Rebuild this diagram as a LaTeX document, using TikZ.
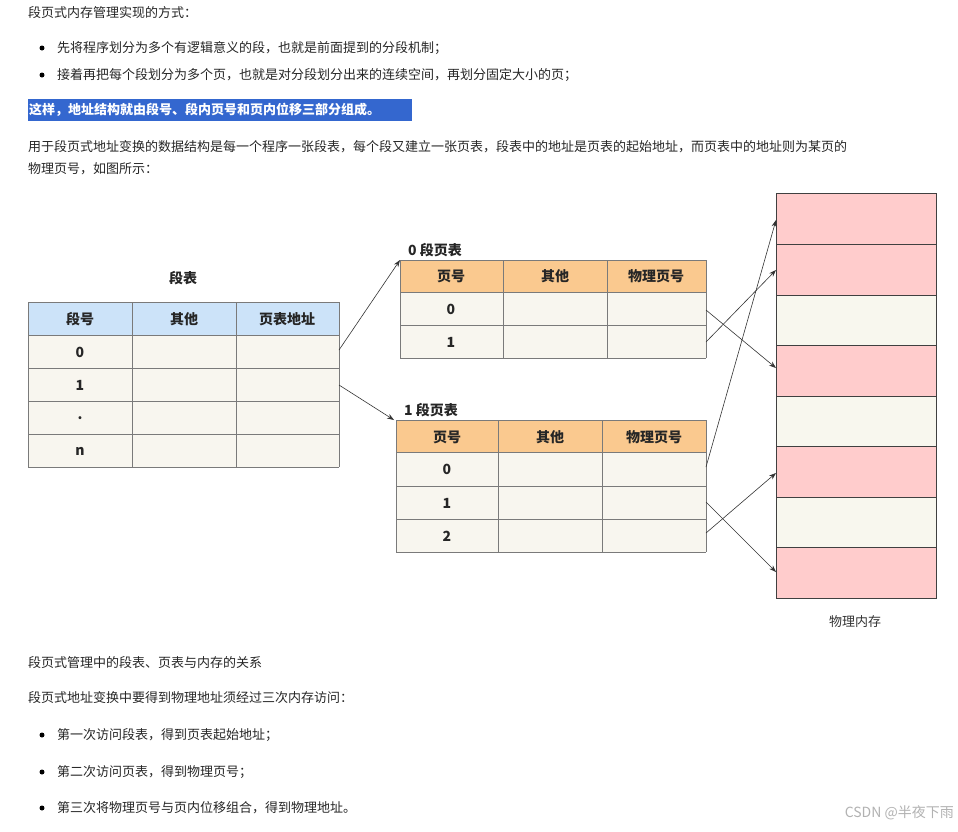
\documentclass[tikz,border=0pt]{standalone}
\usepackage{fontspec}
\setmainfont{Noto Sans CJK SC}
\usetikzlibrary{arrows.meta}
\definecolor{hdrblue}{HTML}{CCE3F9}
\definecolor{hdrorange}{HTML}{FAC98F}
\definecolor{cellcream}{HTML}{F8F6EF}
\definecolor{mempink}{HTML}{FFCCCC}
\definecolor{memcream}{HTML}{F8F7EE}
\definecolor{hlblue}{HTML}{3467CF}
\definecolor{gridgray}{HTML}{7A7A7A}
\begin{document}
\begin{tikzpicture}[x=1pt,y=-1pt,
  txt/.style={anchor=west,inner sep=0pt,font=\fontsize{13}{15}\selectfont,text=black!85},
  cell/.style={draw=gridgray,line width=0.8pt},
  lbl/.style={inner sep=0pt,font=\fontsize{14}{16}\selectfont\bfseries,text=black!85},
  conn/.style={-{Stealth[length=7pt,width=5pt]},line width=0.6pt,black!80},
  dot/.style={circle,fill=black,inner sep=0pt,minimum size=5pt}]
\useasboundingbox (0,0) rectangle (958,831);
\fill[white] (0,0) rectangle (958,831);
% text above
\node[txt] (t1) at (28,13) {段页式内存管理实现的方式：};
\node[dot] (b1) at (42,48) {};
\node[txt] (t2) at (57,48) {先将程序划分为多个有逻辑意义的段，也就是前面提到的分段机制；};
\node[dot] (b2) at (42,75) {};
\node[txt] (t3) at (57,75) {接着再把每个段划分为多个页，也就是对分段划分出来的连续空间，再划分固定大小的页；};
\fill[hlblue] (28,99) rectangle (412,121);
\node[txt,text=white,font=\fontsize{13}{15}\selectfont\bfseries] (t4) at (29,110) {这样，地址结构就由段号、段内页号和页内位移三部分组成。};
\node[txt] (t5) at (28,147) {用于段页式地址变换的数据结构是每一个程序一张段表，每个段又建立一张页表，段表中的地址是页表的起始地址，而页表中的地址则为某页的};
\node[txt] (t6) at (28,169) {物理页号，如图所示：};
% segment table
\node[lbl] (segt) at (183,278) {段表};
\fill[hdrblue] (28,302) rectangle (339,335);
\fill[cellcream] (28,335) rectangle (339,467);
\foreach \y in {302,335,368,401,434,467} \draw[cell] (28,\y) -- (339,\y);
\foreach \x in {28,132,236,339} \draw[cell] (\x,302) -- (\x,467);
\node[lbl] (s1) at (80,319) {段号};
\node[lbl] (s2) at (184,319) {其他};
\node[lbl] (s3) at (287,319) {页表地址};
\node[lbl] (s4) at (80,352) {0};
\node[lbl] (s5) at (80,385) {1};
\node[lbl] (s6) at (80,418) {.};
\node[lbl] (s7) at (80,451) {n};
\coordinate (seg0) at (339,350);
\coordinate (seg1) at (339,385);
% page table 0
\node[lbl,anchor=west] (p0t) at (408,250) {0 段页表};
\fill[hdrorange] (400,260) rectangle (706,292);
\fill[cellcream] (400,292) rectangle (706,358);
\foreach \y in {260,292,325,358} \draw[cell] (400,\y) -- (706,\y);
\foreach \x in {400,503,607,706} \draw[cell] (\x,260) -- (\x,358);
\node[lbl] (a1) at (451,276) {页号};
\node[lbl] (a2) at (555,276) {其他};
\node[lbl] (a3) at (656,276) {物理页号};
\node[lbl] (a4) at (451,309) {0};
\node[lbl] (a5) at (451,342) {1};
\coordinate (p0top) at (400,260);
\coordinate (p0r0) at (706,310);
\coordinate (p0r1) at (706,342);
% page table 1
\node[lbl,anchor=west] (p1t) at (404,410) {1 段页表};
\fill[hdrorange] (396,420) rectangle (706,452);
\fill[cellcream] (396,452) rectangle (706,552);
\foreach \y in {420,452,486,519,552} \draw[cell] (396,\y) -- (706,\y);
\foreach \x in {396,498,602,706} \draw[cell] (\x,420) -- (\x,552);
\node[lbl] (c1) at (447,437) {页号};
\node[lbl] (c2) at (550,437) {其他};
\node[lbl] (c3) at (654,437) {物理页号};
\node[lbl] (c4) at (447,469) {0};
\node[lbl] (c5) at (447,503) {1};
\node[lbl] (c6) at (447,536) {2};
\coordinate (p1top) at (394,420);
\coordinate (p1r0) at (706,467);
\coordinate (p1r1) at (706,502);
\coordinate (p1r2) at (706,533);
% memory
\foreach \t/\b/\c in {193/244/mempink,244/295/mempink,295/345/memcream,345/396/mempink,396/446/memcream,446/497/mempink,497/547/memcream,547/598/mempink}
  \filldraw[fill=\c,draw=black!75,line width=0.8pt] (776,\t) rectangle (936,\b);
\node[font=\fontsize{13}{15}\selectfont,text=black!80,inner sep=0pt] (memlbl) at (855,622) {物理内存};
\coordinate (m1) at (776,220);
\coordinate (m2) at (776,270);
\coordinate (m4) at (776,368);
\coordinate (m6) at (776,473);
\coordinate (m8) at (776,572);
% connectors
\draw[conn] (seg0) -- (p0top);
\draw[conn] (seg1) -- (p1top);
\draw[conn] (p0r0) -- (m4);
\draw[conn] (p0r1) -- (m2);
\draw[conn] (p1r0) -- (m1);
\draw[conn] (p1r1) -- (m8);
\draw[conn] (p1r2) -- (m6);
% text below
\node[txt] (u1) at (28,663) {段页式管理中的段表、页表与内存的关系};
\node[txt] (u2) at (28,698) {段页式地址变换中要得到物理地址须经过三次内存访问：};
\node[dot] (b3) at (42,735) {};
\node[txt] (u3) at (57,735) {第一次访问段表，得到页表起始地址；};
\node[dot] (b4) at (42,772) {};
\node[txt] (u4) at (57,772) {第二次访问页表，得到物理页号；};
\node[dot] (b5) at (42,808) {};
\node[txt] (u5) at (57,808) {第三次将物理页号与页内位移组合，得到物理地址。};
\node[anchor=east,inner sep=0pt,font=\fontsize{14}{16}\selectfont,text=black!30] (wm) at (954,813) {CSDN @半夜下雨};
\end{tikzpicture}
\end{document}
